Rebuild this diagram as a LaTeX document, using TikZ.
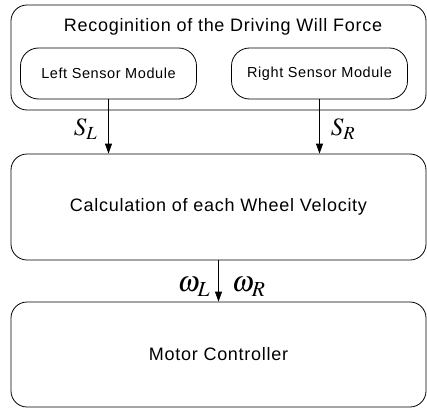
\documentclass[tikz,border=0pt]{standalone}
\usepackage{mathptmx}
\usepackage{fontspec}
\setmainfont{Liberation Sans}[LetterSpace=4]
\usepackage{tikz}
\usetikzlibrary{arrows.meta}

\begin{document}
\begin{tikzpicture}[x=1pt, y=-1pt, line width=0.8pt,
        block/.style={draw, rounded corners=16pt, minimum width=415pt, minimum height=105pt, inner sep=0pt, font=\fontsize{18}{20}\selectfont},
        sensor/.style={draw, rounded corners=18pt, minimum width=176pt, minimum height=51pt, font=\fontsize{14.5}{16}\selectfont},
        sig/.style={-{Triangle[length=10pt, width=7pt]}},
        sym/.style={inner sep=0pt, font=\fontsize{25}{27}\selectfont},
        bigsym/.style={inner sep=0pt, font=\fontsize{29}{31}\selectfont}]
        \useasboundingbox (0,0) rectangle (427,409);
        % Upper block with the two sensors
        \node[block] (will) at (218.5, 57.5) {};
        \node[font=\fontsize{18}{20}\selectfont] (title) at (223, 27) {Recoginition of the Driving Will Force};
        \node[sensor] (lsens) at (108.5, 73.5) {Left Sensor Module};
        \node[sensor] (rsens) at (319.5, 73.5) {Right Sensor Module};
        % Middle and lower blocks
        \node[block, minimum height=106pt] (calc) at (218.5, 207) {Calculation of each Wheel Velocity};
        \node[block] (motor) at (218.5, 354.5) {Motor Controller};
        % Signals
        \draw[sig] (lsens.south) -- (lsens.south |- calc.north) node[pos=0.55, left=11pt, sym] {$S_L$};
        \draw[sig] (rsens.south) -- (rsens.south |- calc.north) node[pos=0.55, right=11pt, sym] {$S_R$};
        \draw[sig] (calc.south) -- (motor.north) node[pos=0.64, left=8pt, bigsym] {$\omega_L$}
                node[pos=0.64, right=13pt, bigsym] {$\omega_R$};
    \end{tikzpicture}
\end{document}
